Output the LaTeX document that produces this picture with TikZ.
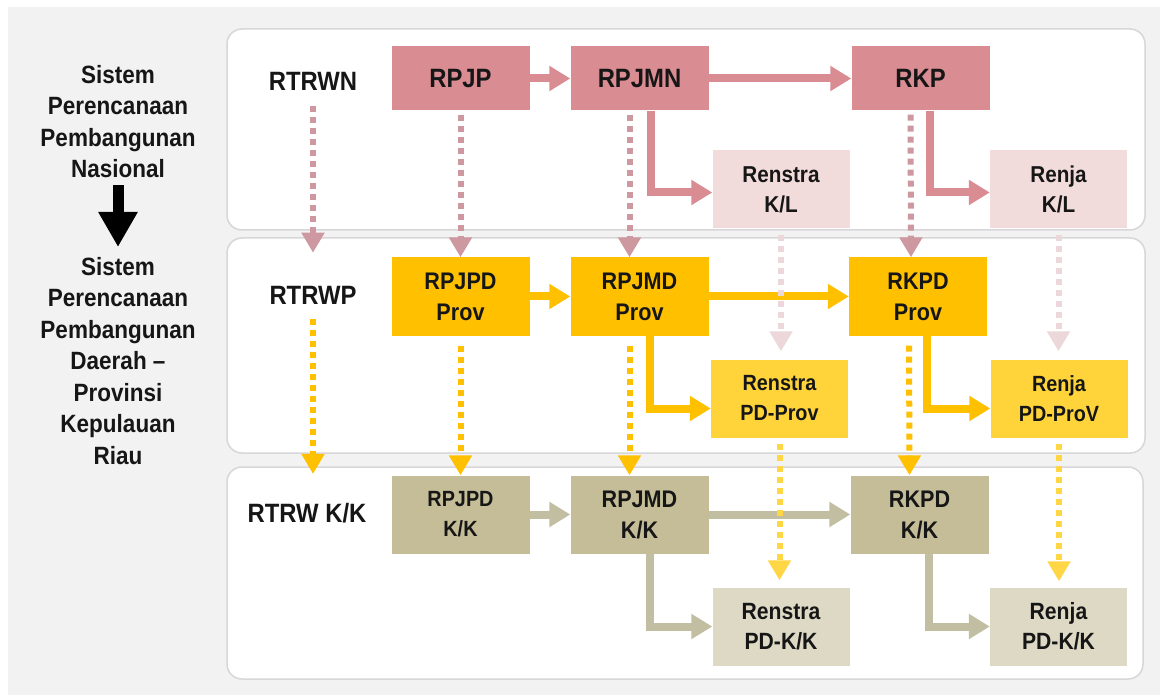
\documentclass[tikz,border=0pt]{standalone}
\usepackage{fontspec}
\setmainfont{Liberation Sans}[FakeStretch=0.9]
\usetikzlibrary{arrows.meta,positioning}
\definecolor{bgray}{RGB}{242,242,242}
\definecolor{pline}{RGB}{216,214,216}
\definecolor{pinkd}{RGB}{217,140,146}
\definecolor{pinkl}{RGB}{242,220,219}
\definecolor{pinkdot}{RGB}{206,152,160}
\definecolor{pinkldot}{RGB}{236,216,218}
\definecolor{goldd}{RGB}{255,192,0}
\definecolor{goldl}{RGB}{255,212,58}
\definecolor{goldldot}{RGB}{255,214,70}
\definecolor{tand}{RGB}{196,189,151}
\definecolor{tanl}{RGB}{221,217,196}
\definecolor{tanarr}{RGB}{194,190,162}
\definecolor{txt}{RGB}{22,22,22}

\begin{document}
\begin{tikzpicture}[x=1pt,y=-1pt,
	panel/.style={draw=pline,line width=1.5pt,fill=white,rounded corners=15pt},
	box/.style={rectangle,inner sep=0pt,align=center,text=txt},
	mainbox/.style={box,minimum width=138pt,minimum height=78pt,font=\bfseries\fontsize{24}{31}\selectfont},
	subbox/.style={box,minimum width=137pt,minimum height=78pt,font=\bfseries\fontsize{23}{30}\selectfont},
	lbl/.style={inner sep=0pt,text=txt,font=\bfseries\fontsize{26.5}{30}\selectfont},
	side/.style={inner sep=0pt,align=center,text=txt,anchor=north,font=\bfseries\fontsize{25}{31.5}\selectfont},
	solidarr/.style={line width=8pt,-{Triangle[length=21pt,width=24pt]}},
	dotarr/.style={line width=6pt,dash pattern=on 6pt off 5pt,-{Triangle[length=20pt,width=22pt]}}]
		\useasboundingbox (0,0) rectangle (1160,695);
		\fill[white] (0,0) rectangle (1160,695);
		\fill[bgray] (8,7) rectangle (1160,695);
		% panels:
		\draw[panel] (227,29) rectangle (1145,230);
		\draw[panel] (227,238) rectangle (1145,453);
		\draw[panel] (227,467) rectangle (1143,679);
		% left texts:
		\node[side] (sisn) at (118,65) {Sistem\\Perencanaan\\Pembangunan\\Nasional};
		\node[side] (sisd) at (118,257) {Sistem\\Perencanaan\\Pembangunan\\Daerah --\\Provinsi\\Kepulauan\\Riau};
		\draw[line width=11pt,black,-{Triangle[length=35pt,width=37pt]},shorten <=7pt,shorten >=10pt] (sisn.south)--(sisn.south |- sisd.north);
		% nasional:
		\node[lbl] (rtrwn) at (313,81) {RTRWN};
		\node[mainbox,fill=pinkd,minimum height=64pt,font=\bfseries\fontsize{26.5}{30}\selectfont] (rpjp) at (460.5,78.5) {RPJP};
		\node[mainbox,fill=pinkd,minimum height=64pt,font=\bfseries\fontsize{26.5}{30}\selectfont] (rpjmn) at (639.5,78.5) {RPJMN};
		\node[mainbox,fill=pinkd,minimum height=64pt,font=\bfseries\fontsize{26.5}{30}\selectfont] (rkp) at (920.5,78.5) {RKP};
		\node[subbox,fill=pinkl] (rsn) at (781,189.5) {Renstra\\K/L};
		\node[subbox,fill=pinkl] (rjn) at (1058.5,189.5) {Renja\\K/L};
		\draw[solidarr,pinkd] (rpjp.east)--(rpjmn.west);
		\draw[solidarr,pinkd] (rpjmn.east)--(rkp.west);
		\draw[solidarr,pinkd] ([xshift=11pt]rpjmn.south) |- ([yshift=-3pt]rsn.west);
		\draw[solidarr,pinkd] ([xshift=9pt]rkp.south) |- ([yshift=-3pt]rjn.west);
		% provinsi:
		\node[lbl] (rtrwp) at (313,295) {RTRWP};
		\node[mainbox,fill=goldd] (rpjpdp) at (460.5,296.5) {RPJPD\\Prov};
		\node[mainbox,fill=goldd] (rpjmdp) at (639.5,296.5) {RPJMD\\Prov};
		\node[mainbox,fill=goldd] (rkpdp) at (918,296.5) {RKPD\\Prov};
		\node[subbox,fill=goldl,font=\bfseries\fontsize{22}{30}\selectfont] (rsp) at (779.5,398.5) {Renstra\\PD-Prov};
		\node[subbox,fill=goldl,font=\bfseries\fontsize{22}{30}\selectfont] (rjp) at (1059,398.5) {Renja\\PD-ProV};
		\draw[solidarr,goldd] (rpjpdp.east)--(rpjmdp.west);
		\draw[solidarr,goldd] (rpjmdp.east)--(rkpdp.west);
		\draw[solidarr,goldd] ([xshift=10pt]rpjmdp.south) |- ([yshift=-10pt]rsp.west);
		\draw[solidarr,goldd] ([xshift=9pt]rkpdp.south) |- ([yshift=-10pt]rjp.west);
		% kabupaten/kota:
		\node[lbl] (rtrwk) at (307,513) {RTRW K/K};
		\node[mainbox,fill=tand,font=\bfseries\fontsize{22}{30}\selectfont] (rpjpdk) at (460.5,514.5) {RPJPD\\K/K};
		\node[mainbox,fill=tand] (rpjmdk) at (639.5,514.5) {RPJMD\\K/K};
		\node[mainbox,fill=tand] (rkpdk) at (919.5,514.5) {RKPD\\K/K};
		\node[subbox,fill=tanl,font=\bfseries\fontsize{23.5}{30}\selectfont] (rsk) at (781,626.5) {Renstra\\PD-K/K};
		\node[subbox,fill=tanl,font=\bfseries\fontsize{23.5}{30}\selectfont] (rjk) at (1058.5,626.5) {Renja\\PD-K/K};
		\draw[solidarr,tanarr] (rpjpdk.east)--(rpjmdk.west);
		\draw[solidarr,tanarr] (rpjmdk.east)--(rkpdk.west);
		\draw[solidarr,tanarr] ([xshift=10pt]rpjmdk.south) |- (rsk.west);
		\draw[solidarr,tanarr] ([xshift=9pt]rkpdk.south) |- (rjk.west);
		% dotted arrows down:
		\draw[dotarr,pinkdot,shorten <=16pt,shorten >=33pt] (rtrwn.south)--(rtrwn.south |- rtrwp.north);
		\draw[dotarr,pinkdot,shorten <=4pt] (rpjp.south)--(rpjpdp.north);
		\draw[dotarr,pinkdot,shorten <=4pt] ([xshift=-10pt]rpjmn.south)--([xshift=-10pt]rpjmdp.north);
		\draw[dotarr,pinkdot,shorten <=4pt] ([xshift=-10pt]rkp.south)--([xshift=-7pt]rkpdp.north);
		\draw[dotarr,pinkldot,shorten <=6pt,shorten >=8pt] (rsn.south)--(rsn.south |- rsp.north);
		\draw[dotarr,pinkldot,shorten <=6pt,shorten >=8pt] (rjn.south)--(rjn.south |- rjp.north);
		\draw[dotarr,goldd,shorten <=15pt,shorten >=29pt] (rtrwp.south)--(rtrwp.south |- rtrwk.north);
		\draw[dotarr,goldd,shorten <=10pt] (rpjpdp.south)--(rpjpdk.north);
		\draw[dotarr,goldd,shorten <=10pt] ([xshift=-10pt]rpjmdp.south)--([xshift=-10pt]rpjmdk.north);
		\draw[dotarr,goldd,shorten <=10pt] ([xshift=-9pt]rkpdp.south)--([xshift=-10pt]rkpdk.north);
		\draw[dotarr,goldldot,shorten <=6pt,shorten >=7pt] (rsp.south)--(rsp.south |- rsk.north);
		\draw[dotarr,goldldot,shorten <=6pt,shorten >=6pt] (rjp.south)--(rjp.south |- rjk.north);
\end{tikzpicture}
\end{document}
